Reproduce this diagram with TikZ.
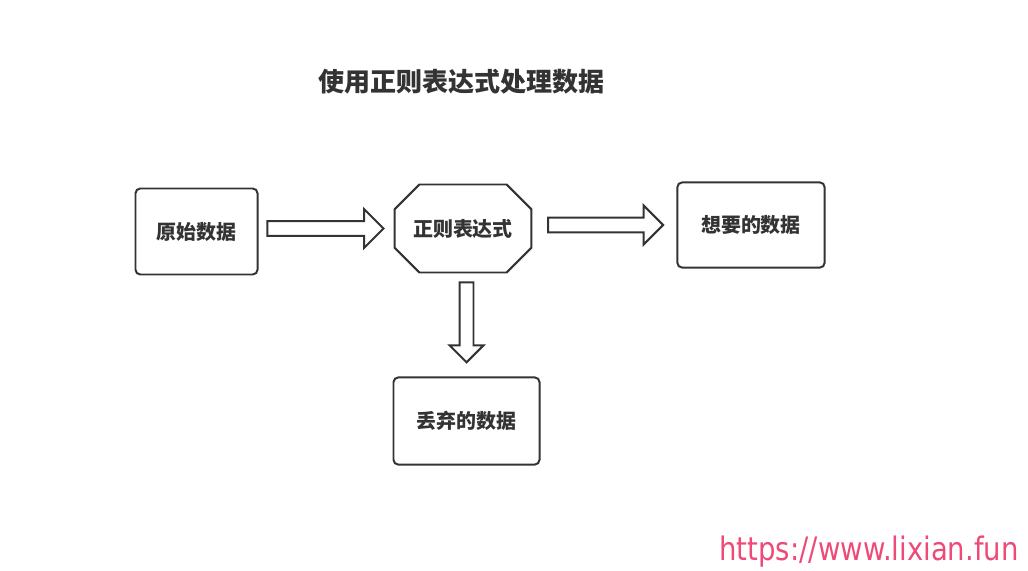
\documentclass[tikz,border=0pt]{standalone}
\usepackage{fontspec}
\usetikzlibrary{shapes.arrows}
\newfontfamily\cjk{Noto Sans CJK SC}
\newfontfamily\urlfont{DejaVu Sans}
\definecolor{inkgray}{HTML}{333333}
\definecolor{linkpink}{HTML}{EE4A78}

\begin{document}
\begin{tikzpicture}[x=0.025cm, y=0.025cm,
                box/.style = {draw=inkgray, line width=1.4pt, rounded corners=0.12cm, text=inkgray,
                              font=\cjk\bfseries\fontsize{14.2pt}{16pt}\selectfont},
                fatarrow/.style = {single arrow, draw=inkgray, line width=1.4pt, inner sep=0.16cm,
                                   single arrow head extend=0.3cm, single arrow tip angle=90}]
                \useasboundingbox (0,0) rectangle (1028,-571);
                \node[text=inkgray, font=\cjk\bfseries\fontsize{18.5pt}{20pt}\selectfont] (title) at (461.5,-82) {使用正则表达式处理数据};
                \node[box, minimum width=3.05cm, minimum height=2.15cm] (raw) at (196.5,-231.5) {原始数据};
                \node[box, draw=none, outer sep=0pt, minimum width=3.42cm, minimum height=2.2cm] (regex) at (463,-228.5) {正则表达式};
                \node[box, minimum width=3.68cm, minimum height=2.13cm] (want) at (751,-225) {想要的数据};
                \node[box, minimum width=3.65cm, minimum height=2.18cm] (waste) at (466.5,-421) {丢弃的数据};
                % octagon round the regex node
                \draw[inkgray, line width=1.4pt]
                    ([xshift=0.62cm]regex.north west) -- ([xshift=-0.62cm]regex.north east)
                    -- ([yshift=-0.62cm]regex.north east) -- ([yshift=0.62cm]regex.south east)
                    -- ([xshift=-0.62cm]regex.south east) -- ([xshift=0.62cm]regex.south west)
                    -- ([yshift=0.62cm]regex.south west) -- ([yshift=-0.62cm]regex.north west) -- cycle;
                \path (raw.east |- regex.west) -- node[fatarrow, xshift=-0.12cm, minimum height=2.9cm] (a1) {} (regex.west);
                \path (regex.east |- want.west) -- node[fatarrow, xshift=-0.05cm, minimum height=2.875cm] (a2) {} (want.west);
                \path (regex.south -| waste.north) -- node[fatarrow, shape border rotate=270, yshift=0.14cm, minimum height=2cm,
                    inner sep=0.15cm, single arrow head extend=0.25cm] (a3) {} (waste.north);
                \node[anchor=base, text=linkpink, font=\urlfont\fontsize{23pt}{26pt}\selectfont] (link) at (869,-560)
                    {\scalebox{0.85}[1]{https://www.lixian.fun}};
            \end{tikzpicture}
\end{document}
